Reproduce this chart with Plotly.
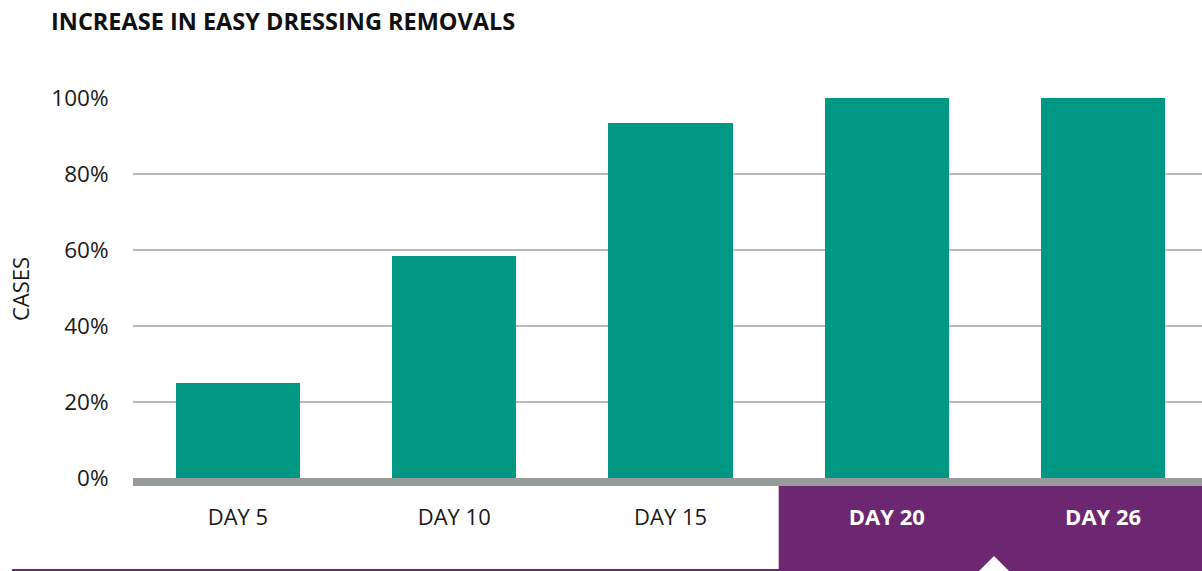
import plotly.graph_objects as go

categories = ["DAY 5", "DAY 10", "DAY 15", "DAY 20", "DAY 26"]
values = [25, 58.5, 93.5, 100, 100]
tick_vals = [0, 20, 40, 60, 80, 100]
tick_text = ["0%", "20%", "40%", "60%", "80%", "100%"]
highlighted = ["DAY 20", "DAY 26"]

W, H = 1202, 571
L, R, T, B = 133, 1202, 98, 478  # plot area in pixels
TEAL = "#009882"
PURPLE = "#6c2770"
GRAY = "#959b9b"
GRID = "#b5bbbb"
FONT = "Open Sans"
TXT = "#1a1a1a"

def px(x):
    return (x - L) / (R - L)

def py(y):
    return (B - y) / (B - T)

xt = []
for c in categories:
    if c in highlighted:
        xt.append(f"<span style='color:white'><b>{c}</b></span>")
    else:
        xt.append(c)

fig = go.Figure()
fig.add_trace(go.Bar(
    x=list(range(len(categories))), y=values,
    marker=dict(color=TEAL, line=dict(width=0)),
    width=0.575, hoverinfo="skip"))

shapes = [
    # purple highlight band under the last two categories
    dict(type="rect", xref="x", yref="paper", x0=2.5, x1=6, y0=py(486), y1=py(590),
         fillcolor=PURPLE, line=dict(width=0), layer="below"),
    # purple bottom rule
    dict(type="line", xref="paper", yref="paper", x0=px(12), x1=px(1210), y0=py(570), y1=py(570),
         line=dict(color=PURPLE, width=2), layer="below"),
    # thick gray baseline
    dict(type="rect", xref="paper", yref="paper", x0=0, x1=1.02, y0=py(478), y1=py(486),
         fillcolor=GRAY, line=dict(width=0), layer="above"),
    # white pointer triangle
    dict(type="path", xref="paper", yref="paper",
         path=f"M {px(978)} {py(572)} L {px(994)} {py(556)} L {px(1010)} {py(572)} Z",
         fillcolor="white", line=dict(width=0), layer="above"),
]

fig.update_layout(
    width=W, height=H,
    margin=dict(l=L, r=W - R, t=T, b=H - B, pad=0),
    paper_bgcolor="white", plot_bgcolor="white",
    showlegend=False,
    font=dict(family=FONT, size=22, color=TXT),
    shapes=shapes,
    bargap=0,
    xaxis=dict(
        range=[-0.485, 4.457], tickmode="array",
        tickvals=list(range(len(categories))), ticktext=xt,
        showgrid=False, zeroline=False, showline=False,
        ticks="outside", ticklen=20, tickcolor="rgba(0,0,0,0)",
        tickfont=dict(family=FONT, size=22, color=TXT),
        fixedrange=True,
    ),
    yaxis=dict(
        range=[0, 100], tickmode="array", tickvals=tick_vals, ticktext=tick_text,
        showgrid=True, gridcolor=GRID, gridwidth=1.5, zeroline=False, showline=False,
        ticks="outside", ticklen=19, tickcolor="rgba(0,0,0,0)",
        tickfont=dict(family=FONT, size=22.5, color=TXT),
        fixedrange=True,
    ),
    annotations=[
        dict(text="<b>INCREASE IN EASY DRESSING REMOVALS</b>", xref="paper", yref="paper",
             x=px(49), y=py(21), xanchor="left", yanchor="middle", showarrow=False,
             font=dict(family=FONT, size=23.5, color="#111111")),
        dict(text="CASES", xref="paper", yref="paper", x=px(20), y=py(289),
             xanchor="center", yanchor="middle", textangle=-90, showarrow=False,
             font=dict(family=FONT, size=22, color=TXT)),
    ],
)

fig.write_html(
    "out.html",
    config={"displayModeBar": False},
    post_script="document.body.style.margin='0';document.body.style.overflow='hidden';",
)
